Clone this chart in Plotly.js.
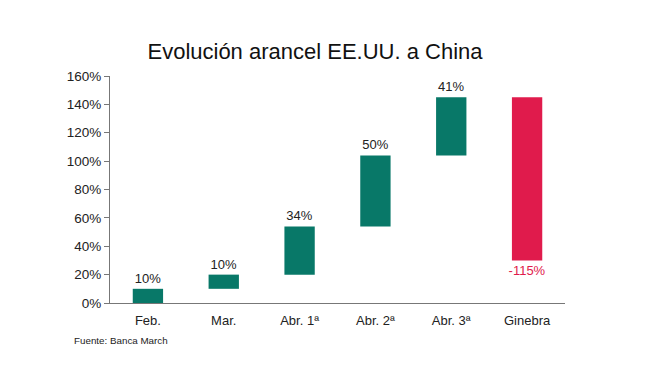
<!DOCTYPE html>
<html><head><meta charset="utf-8">
<script src="https://cdn.plot.ly/plotly-3.0.1.min.js"></script>
<style>html,body{margin:0;padding:0;background:#fff}</style>
</head><body>
<div id="chart" style="width:671px;height:376px"></div>
<script>
const categories = ["Feb.", "Mar.", "Abr. 1ª", "Abr. 2ª", "Abr. 3ª", "Ginebra"];
const changes = [10, 10, 34, 50, 41, -115];
const labels = ["10%", "10%", "34%", "50%", "41%", "-115%"];
const yTicks = [0, 20, 40, 60, 80, 100, 120, 140, 160];

const teal = "#087868";
const red = "#E01B4C";

const trace = {
  type: "waterfall",
  x: categories,
  y: changes,
  measure: changes.map(() => "relative"),
  text: labels,
  textposition: "outside",
  constraintext: "none",
  textfont: {family: "Liberation Sans, Arial, sans-serif", size: 13,
             color: changes.map(v => v < 0 ? red : "#222")},
  cliponaxis: false,
  increasing: {marker: {color: teal}},
  decreasing: {marker: {color: red}},
  connector: {visible: false},
  hoverinfo: "none"
};

const layout = {
  width: 671, height: 376,
  margin: {l: 110, r: 106, t: 76, b: 73},
  paper_bgcolor: "#fff", plot_bgcolor: "#fff",
  showlegend: false,
  waterfallgap: 0.6,
  font: {family: "Liberation Sans, Arial, sans-serif", color: "#222"},
  title: {text: "Evolución arancel EE.UU. a China", font: {size: 22, color: "#111"},
          x: 315/671, xref: "container", xanchor: "center", y: 1 - 51/376, yref: "container", yanchor: "middle"},
  xaxis: {showline: true, linecolor: "#777", linewidth: 1, ticks: "", tickfont: {size: 13},
          ticklabelstandoff: 5,
          showgrid: false, zeroline: false, fixedrange: true},
  yaxis: {range: [0, 160], tickvals: yTicks, ticktext: yTicks.map(v => v + "%"),
          showline: true, linecolor: "#777", linewidth: 1, ticks: "outside", ticklen: 5,
          tickcolor: "#777", tickfont: {size: 13.5}, showgrid: false, zeroline: false, fixedrange: true},
  annotations: [{text: "Fuente: Banca March", xref: "paper", yref: "paper", x: -38/455, y: -37/227,
                 xanchor: "left", yanchor: "middle", showarrow: false, font: {size: 9.8, color: "#222"}}]
};

Plotly.newPlot("chart", [trace], layout, {displayModeBar: false, staticPlot: true});
</script>
</body></html>
